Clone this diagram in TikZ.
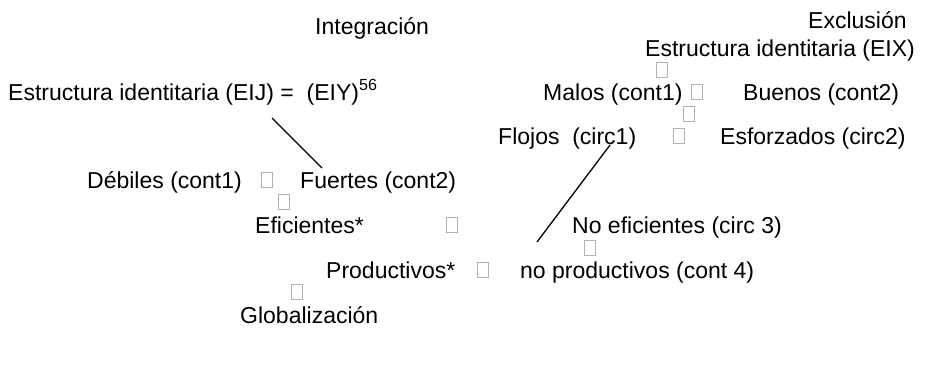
\documentclass[tikz,border=0pt]{standalone}
\usepackage{fontspec}
\setmainfont{Liberation Sans}
\begin{document}
\begin{tikzpicture}[x=1pt,y=-1pt,
  lbl/.style={anchor=base west,inner sep=0pt,font=\fontsize{23}{27}\selectfont},
  gbox/.style={draw=gray!60,line width=0.8pt,minimum width=11pt,minimum height=15pt,inner sep=0pt,anchor=south},
  conn/.style={line width=1.3pt,black}]
\useasboundingbox (0,0) rectangle (942,372);
% headings
\node[lbl] (integ) at (315,34) {Integración};
\node[lbl] (excl) at (808,28) {Exclusión};
\node[lbl] (eix) at (645,56) {Estructura identitaria (EIX)};
\node[gbox] (b1) at (662,78) {};
\node[lbl] (malos) at (543,100) {Malos (cont1)};
\node[gbox] (b2) at (697,100) {};
\node[lbl] (buenos) at (743,100) {Buenos (cont2)};
\node[lbl] (eij) at (8,100) {Estructura identitaria (EIJ) =\ \ (EIY)\textsuperscript{56}};
\node[gbox] (b3) at (689,122) {};
\node[lbl] (flojos) at (498,144) {Flojos\ \ (circ1)};
\node[gbox] (b4) at (679,144) {};
\node[lbl] (esforz) at (720,144) {Esforzados (circ2)};
\node[lbl] (debiles) at (87,188) {Débiles (cont1)};
\node[gbox] (b5) at (267,188) {};
\node[lbl] (fuertes) at (300,188) {Fuertes (cont2)};
\node[gbox] (b6) at (284,210) {};
\node[lbl] (efic) at (255,233) {Eficientes*};
\node[gbox] (b7) at (452,233) {};
\node[lbl] (noefic) at (572,233) {No eficientes (circ 3)};
\node[gbox] (b8) at (590,256) {};
\node[lbl] (prod) at (326,278) {Productivos*};
\node[gbox] (b9) at (483,278) {};
\node[lbl] (noprod) at (520,278) {no productivos (cont 4)};
\node[gbox] (b10) at (297,300) {};
\node[lbl] (glob) at (240,323) {Globalización};
% connectors
\coordinate (l1a) at (272,118);
\coordinate (l1b) at (322,168);
\coordinate (l2a) at (610,145);
\coordinate (l2b) at (537,242);
\draw[conn] (l1a) -- (l1b);
\draw[conn] (l2a) -- (l2b);
\end{tikzpicture}
\end{document}
